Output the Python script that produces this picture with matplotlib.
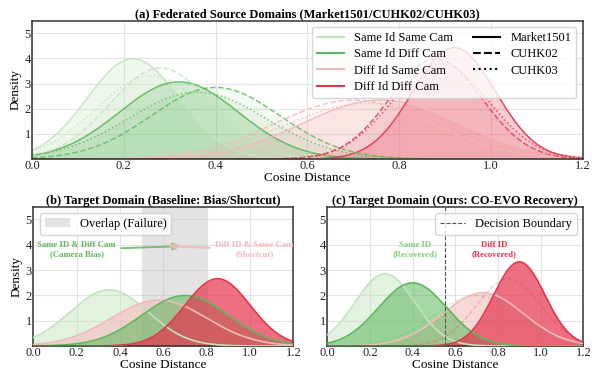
import numpy as np
import matplotlib.pyplot as plt
from matplotlib.lines import Line2D

plt.rcParams['font.family'] = ['Liberation Serif', 'DejaVu Serif']
plt.rcParams['axes.edgecolor'] = '#333333'
plt.rcParams['axes.linewidth'] = 1.1

# category names and colours
CATEGORIES = ["Same Id Same Cam", "Same Id Diff Cam", "Diff Id Same Cam", "Diff Id Diff Cam"]
COLORS     = ["#c2e3bd", "#5cb85c", "#f5b8b8", "#e4344c"]

# (a) source domains: mean / std of the cosine-distance density per category
DATASETS   = ["Market1501", "CUHK02", "CUHK03"]
STYLES     = ["-", "--", ":"]
SRC_MU     = {"Market1501": [0.22, 0.32, 0.76, 0.92],
              "CUHK02":     [0.28, 0.40, 0.70, 0.88],
              "CUHK03":     [0.26, 0.36, 0.73, 0.89]}
SRC_SIGMA  = {"Market1501": [0.10, 0.13, 0.17, 0.090],
              "CUHK02":     [0.11, 0.14, 0.17, 0.100],
              "CUHK03":     [0.12, 0.15, 0.18, 0.105]}

# (b) target domain, baseline
BASE_MU    = [0.35, 0.70, 0.58, 0.85]
BASE_SIGMA = [0.18, 0.20, 0.22, 0.15]

# (c) target domain, ours
OURS_MU    = [0.27, 0.40, 0.73, 0.90]
OURS_SIGMA = [0.14, 0.16, 0.19, 0.12]

OVERLAP  = (0.5, 0.8)
BOUNDARY = 0.55

X = np.linspace(0, 1.2, 500)


def density(mu, sigma):
    return np.exp(-0.5 * ((X - mu) / sigma) ** 2) / (sigma * np.sqrt(2 * np.pi))


def style_axes(ax):
    ax.set_xlim(0, 1.2)
    ax.set_ylim(0, 5.5)
    ax.set_xticks(np.arange(0, 1.21, 0.2))
    ax.set_xticklabels([f"{v:.1f}" for v in np.arange(0, 1.21, 0.2)])
    ax.set_yticks([1, 2, 3, 4, 5])
    ax.grid(True, color="#e3e3e3", linewidth=0.8)
    ax.set_axisbelow(True)
    ax.tick_params(length=0, labelsize=9, pad=1, colors="#222222")
    ax.set_xlabel("Cosine Distance", fontsize=9.5, labelpad=0)


fig = plt.figure(figsize=(5.94, 3.70), dpi=100)
ax1 = fig.add_axes([0.054, 0.570, 0.927, 0.374])
ax2 = fig.add_axes([0.056, 0.065, 0.438, 0.376])
ax3 = fig.add_axes([0.551, 0.065, 0.431, 0.376])

# ---- (a) source domains
for ds, ls in zip(DATASETS, STYLES):
    for i, c in enumerate(COLORS):
        y = density(SRC_MU[ds][i], SRC_SIGMA[ds][i])
        ax1.fill_between(X, y, color=c, alpha=0.25 if ls == "-" else 0.07, lw=0)
        ax1.plot(X, y, color=c, ls=ls, lw=1.1, alpha=0.9 if ls == "-" else 0.8)
style_axes(ax1)
ax1.set_ylabel("Density", fontsize=9.5, labelpad=2)
ax1.set_title("(a) Federated Source Domains (Market1501/CUHK02/CUHK03)",
              fontsize=9, fontweight="bold", pad=2)
handles = [Line2D([], [], color=c, lw=1.5) for c in COLORS]
handles += [Line2D([], [], color="black", ls=ls, lw=1.5) for ls in STYLES]
ax1.legend(handles, CATEGORIES + DATASETS, ncol=2, loc="upper right", fontsize=9,
           framealpha=0.8, edgecolor="#cccccc", columnspacing=1.6,
           handlelength=2.2, labelspacing=0.35, borderpad=0.4)

# ---- (b) baseline
draw_order = [0, 2, 1, 3]
fill_alpha = [0.45, 0.55, 0.55, 0.7]
ax2.axvspan(*OVERLAP, color="#bbbbbb", alpha=0.4, lw=0, label="Overlap (Failure)")
for i in draw_order:
    ax2.fill_between(X, density(BASE_MU[i], BASE_SIGMA[i]), color=COLORS[i],
                     alpha=fill_alpha[i], lw=0)
for i in draw_order:
    ax2.plot(X, density(BASE_MU[i], BASE_SIGMA[i]), color=COLORS[i], lw=1.2, zorder=3)
style_axes(ax2)
ax2.set_ylabel("Density", fontsize=9.5, labelpad=2)
ax2.set_title("(b) Target Domain (Baseline: Bias/Shortcut)", fontsize=9,
              fontweight="bold", pad=2)
ax2.legend(loc="upper left", fontsize=9, framealpha=0.8, edgecolor="#cccccc")
ax2.annotate("Same ID & Diff Cam\n(Camera Bias)", xy=(0.69, 3.95), xytext=(0.2, 3.8),
             ha="center", va="center", fontsize=6.3, fontweight="bold", color=COLORS[1],
             arrowprops=dict(arrowstyle="-|>", color=COLORS[1], lw=1.4, alpha=0.85,
                             mutation_scale=10))
ax2.annotate("Diff ID & Same Cam\n(Shortcut)", xy=(0.61, 3.95), xytext=(1.02, 3.8),
             ha="center", va="center", fontsize=6.3, fontweight="bold", color=COLORS[2],
             arrowprops=dict(arrowstyle="-|>", color=COLORS[2], lw=1.4, alpha=0.9,
                             mutation_scale=10))

# ---- (c) ours
for i in [1, 3]:
    ax3.plot(X, density(BASE_MU[i], BASE_SIGMA[i]), color=COLORS[i], ls="--",
             lw=0.9, alpha=0.3)
for i in draw_order:
    ax3.fill_between(X, density(OURS_MU[i], OURS_SIGMA[i]), color=COLORS[i],
                     alpha=fill_alpha[i], lw=0)
for i in draw_order:
    ax3.plot(X, density(OURS_MU[i], OURS_SIGMA[i]), color=COLORS[i], lw=1.2, zorder=3)
ax3.axvline(BOUNDARY, color="#555555", ls="--", lw=0.8, label="Decision Boundary", zorder=4)
style_axes(ax3)
ax3.set_title("(c) Target Domain (Ours: CO-EVO Recovery)", fontsize=9,
              fontweight="bold", pad=2)
ax3.legend(loc="upper right", fontsize=9, framealpha=0.8, edgecolor="#cccccc")
ax3.text(0.41, 3.8, "Same ID\n(Recovered)", ha="center", va="center", fontsize=6.3,
         fontweight="bold", color="#7fcf7f")
ax3.text(0.78, 3.8, "Diff ID\n(Recovered)", ha="center", va="center", fontsize=6.3,
         fontweight="bold", color=COLORS[3])

fig.savefig("out.png", dpi=100)
